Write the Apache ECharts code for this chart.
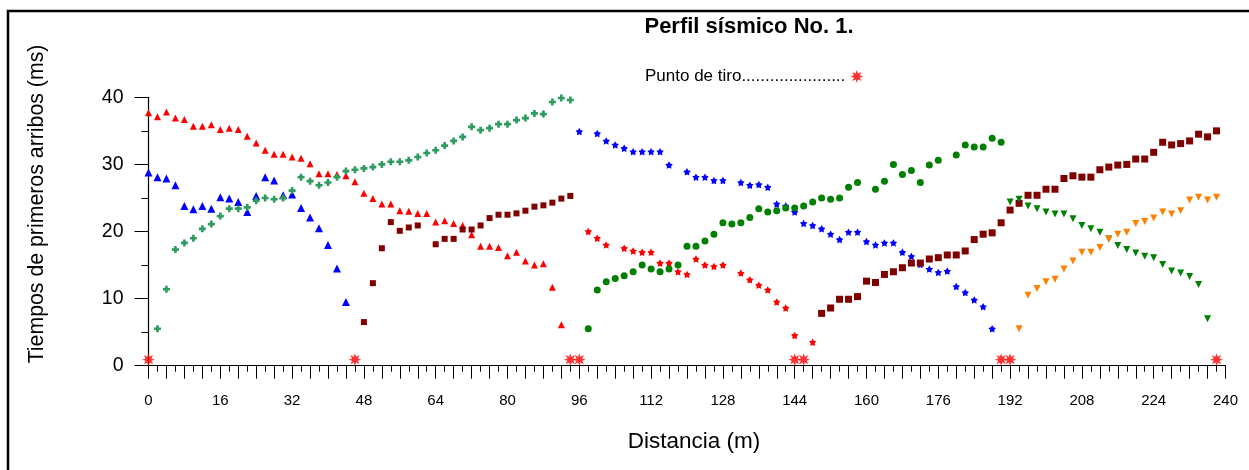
<!DOCTYPE html>
<html><head><meta charset="utf-8">
<script src="https://cdn.jsdelivr.net/npm/echarts@6/dist/echarts.min.js"></script>
<style>html,body{margin:0;padding:0;background:#fff}#c{width:1249px;height:470px}</style>
</head><body><div id="c"></div>
<script>
// ---- data (distance m, time ms) ----
const shotX = [0, 46, 94, 96, 144, 146, 190, 192, 238];
const shotY = [0.9, 0.9, 0.9, 0.9, 0.9, 0.9, 0.9, 0.9, 0.9];

const redUp = [[0,37.7],[2,37.1],[4,37.8],[6,36.9],[8,36.7],[10,35.7],[12,35.7],[14,35.9],[16,35.2],[18,35.4],[20,35.2],[22,34.2],[24,33.2],[26,32.1],[28,31.5],[30,31.5],[32,31.1],[34,30.9],[36,30.1],[38,28.6],[40,28.6],[42,28.5],[44,28.3],[46,27.4],[48,25.7],[50,24.9],[52,24.1],[54,24.1],[56,23.1],[58,23.0],[60,22.7],[62,22.7],[64,21.4],[66,21.6],[68,21.2],[70,20.9],[72,19.5],[74,17.8],[76,17.8],[78,17.6],[80,16.4],[82,16.9],[84,15.6],[86,15.0],[88,15.2],[90,11.7],[92,6.1]];
const blueUp = [[0,28.8],[2,28.1],[4,27.9],[6,26.9],[8,23.8],[10,23.3],[12,23.8],[14,23.4],[16,25.1],[18,24.9],[20,24.4],[22,22.9],[24,25.3],[26,28.1],[28,27.6],[30,25.4],[32,25.5],[34,23.5],[36,22.1],[38,20.5],[40,18.0],[42,14.5],[44,9.5]];
const seaGreen = [[2,5.5],[4,11.4],[6,17.3],[8,18.3],[10,19.0],[12,20.4],[14,21.1],[16,22.3],[18,23.4],[20,23.4],[22,23.6],[24,24.6],[26,25.0],[28,24.8],[30,25.0],[32,26.1],[34,28.1],[36,27.5],[38,26.9],[40,27.3],[42,28.1],[44,29.0],[46,29.2],[48,29.4],[50,29.6],[52,30.0],[54,30.4],[56,30.4],[58,30.6],[60,31.1],[62,31.7],[64,32.1],[66,32.8],[68,33.5],[70,34.1],[72,35.6],[74,35.1],[76,35.4],[78,36.0],[80,36.0],[82,36.6],[84,36.9],[86,37.6],[88,37.5],[90,39.3],[92,39.9],[94,39.6]];
const darkRed1 = [[48,6.5],[50,12.3],[52,17.5],[54,21.4],[56,20.1],[58,20.6],[60,20.9],[64,18.1],[66,18.9],[68,18.9],[70,20.3],[72,20.3],[74,20.9],[76,22.0],[78,22.5],[80,22.5],[82,22.7],[84,23.1],[86,23.7],[88,23.9],[90,24.3],[92,24.9],[94,25.3]];
const blueStar = [[96,34.9],[100,34.6],[102,33.5],[104,32.9],[106,32.4],[108,31.9],[110,31.9],[112,31.9],[114,31.9],[116,29.9],[120,28.9],[122,28.1],[124,28.1],[126,27.6],[128,27.6],[132,27.3],[134,26.9],[136,27.0],[138,26.6],[140,24.1],[142,23.8],[144,22.9],[146,21.2],[148,20.9],[150,20.4],[152,19.6],[154,18.8],[156,19.9],[158,19.9],[160,18.5],[162,18.0],[164,18.3],[166,18.3],[168,16.9],[170,16.3],[172,15.1],[174,14.4],[176,13.9],[178,14.1],[180,11.8],[182,10.9],[184,9.8],[186,8.8],[188,5.5]];
const redStar = [[98,20.0],[100,19.0],[102,18.0],[106,17.5],[108,17.1],[110,16.9],[112,16.9],[114,15.3],[116,15.3],[118,14.0],[120,13.6],[122,15.9],[124,15.0],[126,14.8],[128,15.0],[132,13.8],[134,12.8],[136,12.0],[138,11.3],[140,9.5],[142,8.6],[144,4.5],[148,3.5]];
const green2 = [[98,5.5],[100,11.3],[102,12.5],[104,13.0],[106,13.4],[108,14.0],[110,15.0],[112,14.4],[114,14.0],[116,14.4],[118,15.0],[120,17.8],[122,17.8],[124,18.6],[126,19.6],[128,21.3],[130,21.1],[132,21.3],[134,22.1],[136,23.4],[138,22.9],[140,23.1],[142,23.5],[144,23.5],[146,23.8],[148,24.4],[150,25.0],[152,24.8],[154,25.0],[156,26.6],[158,27.3],[162,26.3],[164,27.5],[166,30.0],[168,28.5],[170,29.1],[172,27.3],[174,29.9],[176,30.6],[180,31.4],[182,32.9],[184,32.6],[186,32.6],[188,33.9],[190,33.3]];
const darkRed2 = [[150,7.8],[152,8.6],[154,9.9],[156,9.9],[158,10.3],[160,12.6],[162,12.4],[164,13.6],[166,14.0],[168,14.6],[170,15.3],[172,15.3],[174,15.9],[176,16.1],[178,16.5],[180,16.5],[182,17.1],[184,18.8],[186,19.6],[188,19.8],[190,21.3],[192,23.2],[194,24.2],[196,25.4],[198,25.4],[200,26.3],[202,26.3],[204,27.9],[206,28.3],[208,28.1],[210,28.1],[212,29.2],[214,29.6],[216,29.9],[218,30.0],[220,30.8],[222,30.8],[224,31.8],[226,33.3],[228,32.9],[230,33.1],[232,33.5],[234,34.5],[236,34.1],[238,35.0]];
const greenDown = [[192,24.4],[194,24.8],[196,23.8],[198,23.4],[200,22.9],[202,22.6],[204,22.6],[206,21.9],[208,20.9],[210,20.4],[212,19.9],[214,18.9],[216,17.9],[218,17.3],[220,16.8],[222,16.3],[224,16.1],[226,15.1],[228,14.1],[230,13.8],[232,13.3],[234,12.1],[236,7.0]];
const orangeDown = [[194,5.5],[196,10.5],[198,11.5],[200,12.5],[202,12.9],[204,14.4],[206,15.6],[208,16.9],[210,16.9],[212,17.6],[214,18.9],[216,19.6],[218,19.9],[220,21.2],[222,21.5],[224,22.0],[226,22.9],[228,22.6],[230,23.1],[232,24.7],[234,25.1],[236,24.7],[238,25.1]];

const xMin = 0, xMax = 240, xStep = 4, xLabelEvery = 16;
const yMin = 0, yMax = 40, yStep = 10;

// ---- styling ----
const FONT = '"Liberation Sans", Arial, sans-serif';
function starPath(n, r1, r2) {
  const pts = [];
  for (let i = 0; i < 2 * n; i++) {
    const a = i * Math.PI / n - Math.PI / 2;
    const r = i % 2 ? r2 : r1;
    pts.push((r1 + r * Math.cos(a)).toFixed(3) + ',' + (r1 + r * Math.sin(a)).toFixed(3));
  }
  return 'path://M' + pts.join('L') + 'Z';
}
const burst = starPath(8, 10, 4.8);
const smallStar = starPath(5, 10, 5.5);
const plusSym = 'path://M2.5,0H5.5V2.5H8V5.5H5.5V8H2.5V5.5H0V2.5H2.5Z';

function sc(name, data, color, symbol, size, rotate) {
  return { name, type: 'scatter', data, symbol, symbolSize: size, symbolRotate: rotate || 0,
    itemStyle: { color, opacity: 1 }, silent: true, z: 2 };
}

const chart = echarts.init(document.getElementById('c'), null, { renderer: 'canvas' });
chart.setOption({
  animation: false,
  backgroundColor: '#fff',
  textStyle: { fontFamily: FONT },
  grid: { left: 148.5, right: 23.5, top: 97.3, bottom: 104.3 },
  legend: {
    data: ['Punto de tiro'], left: 640, top: 63, align: 'right', selectedMode: false,
    itemWidth: 13, itemHeight: 13, icon: burst,
    formatter: n => n + '......................',
    textStyle: { fontSize: 17, color: '#000', fontFamily: FONT }
  },
  xAxis: {
    type: 'value', min: xMin, max: xMax, interval: xStep,
    splitLine: { show: false },
    axisLine: { onZero: false, lineStyle: { color: '#000', width: 1.2 } },
    axisTick: { length: 13, lineStyle: { color: '#000' } },
    minorTick: { show: true, splitNumber: 2, length: 6, lineStyle: { color: '#000' } },
    axisLabel: { margin: 28, fontSize: 15, color: '#000', fontFamily: FONT,
      formatter: v => (v % xLabelEvery === 0 ? String(v) : '') }
  },
  yAxis: {
    type: 'value', min: yMin, max: yMax, interval: yStep,
    splitLine: { show: false },
    axisLine: { show: true, onZero: false, lineStyle: { color: '#000', width: 1.2 } },
    axisTick: { show: true, length: 14, lineStyle: { color: '#000' } },
    minorTick: { show: true, splitNumber: 2, length: 7, lineStyle: { color: '#000' } },
    axisLabel: { margin: 25, fontSize: 19.5, color: '#000', fontFamily: FONT }
  },
  graphic: [
    { type: 'rect', shape: { x: 8, y: 11, width: 1400, height: 800 }, style: { fill: 'none', stroke: '#000', lineWidth: 2.5 }, silent: true, z: 0 },
    { type: 'text', x: 749, y: 27, style: { text: 'Perfil sísmico No. 1.', font: 'bold 22px ' + FONT, fill: '#000', textAlign: 'center', textVerticalAlign: 'middle' } },
    { type: 'text', x: 694, y: 442, style: { text: 'Distancia (m)', font: '22.5px ' + FONT, fill: '#000', textAlign: 'center', textVerticalAlign: 'middle' } },
    { type: 'text', x: 37, y: 204, rotation: Math.PI / 2, style: { text: 'Tiempos de primeros arribos (ms)', font: '21.3px ' + FONT, fill: '#000', textAlign: 'center', textVerticalAlign: 'middle' } }
  ],
  series: [
    sc('r1', redUp, '#FF0000', 'triangle', 7),
    sc('b1', blueUp, '#0000FF', 'triangle', 8),
    sc('g1', seaGreen, '#2E9B5F', plusSym, 7),
    sc('d1', darkRed1, '#800000', 'rect', 6),
    sc('b2', blueStar, '#0000FF', smallStar, 7.5),
    sc('r2', redStar, '#FF0000', smallStar, 7.5),
    sc('g2', green2, '#008000', 'circle', 7),
    sc('d2', darkRed2, '#800000', 'rect', 7),
    sc('g3', greenDown, '#008000', 'triangle', 7, 180),
    sc('o3', orangeDown, '#FF7F00', 'triangle', 7, 180),
    { name: 'Punto de tiro', type: 'scatter', data: shotX.map((x, i) => [x, shotY[i]]),
      symbol: burst, symbolSize: 13, itemStyle: { color: '#FF0000' }, silent: true, z: 5 }
  ]
});
</script></body></html>
